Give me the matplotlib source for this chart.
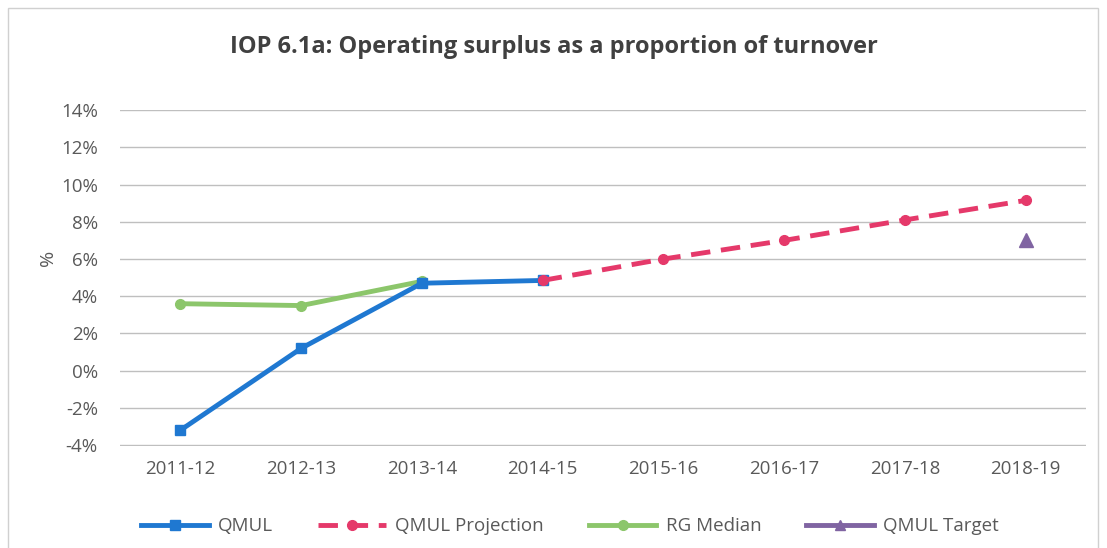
import matplotlib.pyplot as plt
from matplotlib.lines import Line2D
from matplotlib.patches import Rectangle
from matplotlib.ticker import FuncFormatter

plt.rcParams["font.family"] = ["Open Sans", "DejaVu Sans"]

years = ["2011-12", "2012-13", "2013-14", "2014-15",
         "2015-16", "2016-17", "2017-18", "2018-19"]
qmul = [-3.2, 1.2, 4.7, 4.85]
projection = [4.85, 6.0, 7.0, 8.1, 9.15]
rg_median = [3.6, 3.5, 4.8]
target = 7.0
yticks = list(range(-4, 15, 2))

TEXT = "#595959"
BLUE = "#1F78D1"
PINK = "#E5396A"
GREEN = "#8CC66B"
PURPLE = "#8064A2"

fig = plt.figure(figsize=(11.07, 5.48), dpi=100)
ax = fig.add_axes([0.1084, 0.186, 0.8726, 0.613])

x = list(range(len(years)))
ax.plot(x[:len(qmul)], qmul, color=BLUE, lw=3.5, marker="s", ms=7,
        label="QMUL", zorder=4)
ax.plot(x[3:3 + len(projection)], projection, color=PINK, lw=3.5,
        ls=(0, (4, 2.2)), marker="o", ms=7, label="QMUL Projection", zorder=5)
ax.plot(x[:len(rg_median)], rg_median, color=GREEN, lw=3.5, marker="o", ms=7,
        label="RG Median", zorder=3)
ax.plot([x[-1]], [target], color=PURPLE, ls="none", marker="^", ms=10,
        label="QMUL Target", zorder=4)

ax.set_xlim(-0.5, len(years) - 0.5)
ax.set_ylim(-4.05, 14)
ax.set_xticks(x)
ax.set_xticklabels(years)
ax.set_yticks(yticks)
ax.yaxis.set_major_formatter(FuncFormatter(lambda v, p: f"{v:.0f}%"))
ax.tick_params(length=0, labelsize=13.5, colors=TEXT, pad=10)
ax.tick_params(axis="y", pad=16)
ax.grid(axis="y", color="#BFBFBF", lw=1)
ax.set_axisbelow(True)
for s in ax.spines.values():
    s.set_visible(False)
ax.set_ylabel("%", fontsize=14, color=TEXT)
ax.yaxis.set_label_coords(-0.065, 0.56)

fig.text(0.5, 0.915, "IOP 6.1a: Operating surplus as a proportion of turnover",
         ha="center", va="center", fontsize=17, fontweight="bold", color="#404040")

handles, labels = ax.get_legend_handles_labels()
handles[-1] = Line2D([], [], color=PURPLE, lw=3.5, marker="^", ms=7)
fig.legend(handles, labels, loc="center", ncol=4, bbox_to_anchor=(0.515, 0.04),
           frameon=False, fontsize=13.5, labelcolor=TEXT, handlelength=3.6,
           handletextpad=0.5, columnspacing=2.4)

fig.patches.append(Rectangle((8 / 1107, -0.01), 1090 / 1107, 1 - 8 / 548 + 0.01,
                             transform=fig.transFigure, fill=False,
                             ec="#D0D0D0", lw=1))

fig.savefig("out.png", dpi=100)
